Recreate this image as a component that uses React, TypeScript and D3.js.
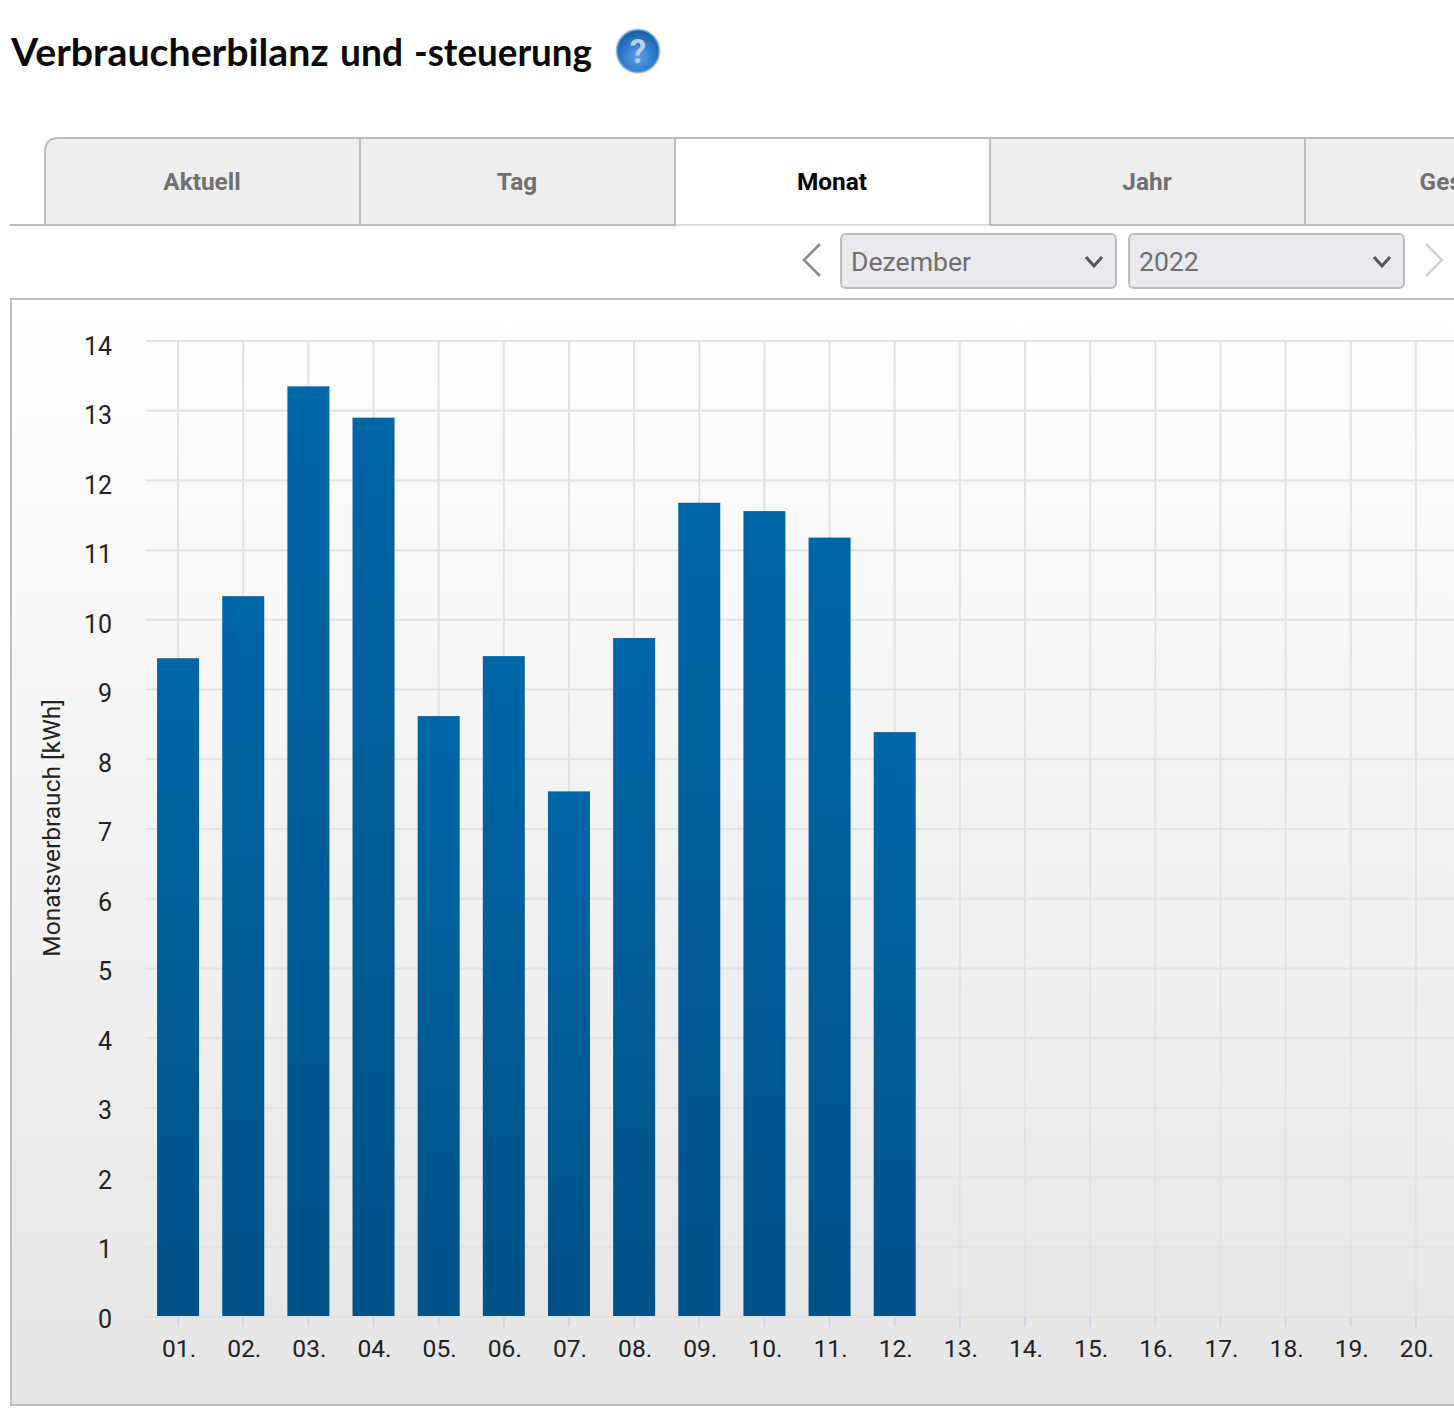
import * as d3 from 'd3';
import { useEffect, useRef } from 'react';

const days = ['01.', '02.', '03.', '04.', '05.', '06.', '07.', '08.', '09.', '10.', '11.', '12.', '13.', '14.', '15.', '16.', '17.', '18.', '19.', '20.'];
const consumption = [9.45, 10.34, 13.35, 12.9, 8.62, 9.48, 7.54, 9.74, 11.68, 11.56, 11.18, 8.39];
const yTicks = [0, 1, 2, 3, 4, 5, 6, 7, 8, 9, 10, 11, 12, 13, 14];
const tabs = ['Aktuell', 'Tag', 'Monat', 'Jahr', 'Gesamt'];
const selects = ['Dezember', '2022'];
const titleWords = ['Verbraucherbilanz ', 'und ', '-steuerung'];

export default function App() {
    const chartRef = useRef<SVGSVGElement>(null);

    useEffect(() => {
        const width = 1454;
        const height = 1408;
        const font = 'Roboto, sans-serif';

        const svg = d3.select(chartRef.current);
        svg.selectAll('*').remove();

        const defs = svg.append('defs');

        const panelGrad = defs.append('linearGradient').attr('id', 'panelGrad').attr('x1', 0).attr('x2', 0).attr('y1', 0).attr('y2', 1);
        panelGrad.append('stop').attr('offset', '0%').attr('stop-color', '#ffffff');
        panelGrad.append('stop').attr('offset', '100%').attr('stop-color', '#e5e5e5');

        const barGrad = defs.append('linearGradient').attr('id', 'barGrad').attr('x1', 0).attr('x2', 0).attr('y1', 0).attr('y2', 1);
        barGrad.append('stop').attr('offset', '0%').attr('stop-color', '#0066a8');
        barGrad.append('stop').attr('offset', '100%').attr('stop-color', '#005287');

        const helpGrad = defs.append('radialGradient').attr('id', 'helpGrad').attr('cx', '50%').attr('cy', '65%').attr('r', '60%');
        helpGrad.append('stop').attr('offset', '0%').attr('stop-color', '#5ba3e6');
        helpGrad.append('stop').attr('offset', '70%').attr('stop-color', '#2a76c6');
        helpGrad.append('stop').attr('offset', '100%').attr('stop-color', '#1a5ea6');

        svg.append('rect').attr('width', width).attr('height', height).attr('fill', '#ffffff');

        // Title
        const titleX = [11, 340, 414];
        const titleW = [327, 72, 178];
        svg.append('text')
            .attr('y', 66)
            .attr('font-family', 'Lato, sans-serif')
            .attr('font-weight', 700)
            .attr('font-size', 38)
            .attr('fill', '#0a0a0a')
            .selectAll('tspan')
            .data(titleWords)
            .join('tspan')
            .attr('x', (d, i) => titleX[i])
            .attr('textLength', (d, i) => titleW[i])
            .attr('lengthAdjust', 'spacingAndGlyphs')
            .text((d) => d);

        // Help icon
        const help = svg.append('g').attr('transform', 'translate(638,51)');
        help.append('circle').attr('r', 23).attr('fill', '#e4eaf0');
        help.append('circle').attr('r', 21).attr('fill', 'url(#helpGrad)').attr('stroke', '#5f97cf').attr('stroke-width', 1.5);
        help.append('text')
            .attr('y', 12)
            .attr('text-anchor', 'middle')
            .attr('font-family', font)
            .attr('font-weight', 700)
            .attr('font-size', 33)
            .attr('fill', '#b9d0e8')
            .text('?');

        // Tabs
        const tabScale = d3.scaleBand<string>().domain(tabs).range([45, 45 + 315 * tabs.length]);
        svg.append('line').attr('x1', 10).attr('x2', width).attr('y1', 225).attr('y2', 225).attr('stroke', '#bdbdbd').attr('stroke-width', 2);
        const tab = svg.append('g').selectAll('g').data(tabs).join('g').attr('transform', (d) => `translate(${tabScale(d)},138)`);
        tab.append('path')
            .attr('d', (d, i) => {
                const w = tabScale.bandwidth();
                return i === 0
                    ? `M0,87V14Q0,0 14,0H${w}V87Z`
                    : `M0,87V0H${w}V87Z`;
            })
            .attr('fill', (d) => (d === 'Monat' ? '#ffffff' : '#eeeeee'))
            .attr('stroke', '#bdbdbd')
            .attr('stroke-width', 2);
        tab.append('text')
            .attr('x', (d) => tabScale.bandwidth() / 2 - 0.5)
            .attr('y', 51.5)
            .attr('text-anchor', 'middle')
            .attr('font-family', font)
            .attr('font-weight', 700)
            .attr('font-size', 24.4)
            .attr('fill', (d) => (d === 'Monat' ? '#000000' : '#707070'))
            .text((d) => d);
        // active tab merges into the page below it
        svg.append('line').attr('x1', tabScale('Monat')! + 1).attr('x2', tabScale('Monat')! + 314).attr('y1', 225.5).attr('y2', 225.5).attr('stroke', '#eeeeee').attr('stroke-width', 2);

        // Month / year selects
        const selectScale = d3.scaleOrdinal<string, number>().domain(selects).range([841, 1129]);
        const select = svg.append('g').selectAll('g').data(selects).join('g').attr('transform', (d) => `translate(${selectScale(d)},234)`);
        select.append('rect').attr('width', 275).attr('height', 54).attr('rx', 5).attr('fill', '#e9e9ee').attr('stroke', '#bcbcbc').attr('stroke-width', 2);
        select.append('text').attr('x', 10).attr('y', 36.5).attr('font-family', font).attr('font-size', 26.6).attr('fill', '#707070').text((d) => d);
        select.append('path').attr('d', 'M245,23l8,9l8,-9').attr('fill', 'none').attr('stroke', '#555555').attr('stroke-width', 3);

        svg.append('path').attr('d', 'M820,244L804,260L820,276').attr('fill', 'none').attr('stroke', '#8a8a8a').attr('stroke-width', 2.5);
        svg.append('path').attr('d', 'M1426,244L1442,260L1426,276').attr('fill', 'none').attr('stroke', '#d2d2d2').attr('stroke-width', 2.5);

        // Chart panel
        svg.append('rect')
            .attr('x', 11)
            .attr('y', 299)
            .attr('width', width + 10)
            .attr('height', 1106)
            .attr('fill', 'url(#panelGrad)')
            .attr('stroke', '#bfbfbf')
            .attr('stroke-width', 2);

        const plotTop = 341;
        const plotBottom = 1317;
        const plotLeft = 145.5;
        const step = 65.15;

        const x = d3.scaleBand<string>()
            .domain(days)
            .range([plotLeft, plotLeft + step * days.length]);
        const y = d3.scaleLinear().domain([0, 14]).range([plotBottom, plotTop]);
        // the tick labels sit a little off the gridlines, more so towards the top
        const yLabel = d3.scaleLinear().domain([0, 14]).range([1319, 346]);

        // Grid
        const grid = svg.append('g');
        grid.selectAll('line.h').data(yTicks).join('line')
            .attr('class', 'h')
            .attr('x1', plotLeft)
            .attr('x2', width)
            .attr('y1', (d) => y(d))
            .attr('y2', (d) => y(d))
            .attr('stroke', '#e2e2e5')
            .attr('stroke-width', 2);
        grid.selectAll('line.v').data(days).join('line')
            .attr('class', 'v')
            .attr('x1', (d) => x(d)! + x.bandwidth() / 2)
            .attr('x2', (d) => x(d)! + x.bandwidth() / 2)
            .attr('y1', plotTop)
            .attr('y2', plotBottom)
            .attr('stroke', '#e2e2e5')
            .attr('stroke-width', 2);

        // Bars
        const barWidth = 42;
        svg.append('g').selectAll('rect').data(consumption).join('rect')
            .attr('x', (d, i) => x(days[i])! + x.bandwidth() / 2 - barWidth / 2)
            .attr('y', (d) => y(d))
            .attr('width', barWidth)
            .attr('height', (d) => y(0) - y(d) - 1)
            .attr('fill', 'url(#barGrad)');

        // X axis
        const xAxis = svg.append('g')
            .attr('transform', `translate(0,${plotBottom})`)
            .call(d3.axisBottom(x).tickSize(10).tickPadding(13));
        xAxis.select('.domain').remove();
        xAxis.selectAll('line').attr('stroke', '#ccd6e6').attr('stroke-width', 2);
        xAxis.selectAll('text').attr('font-family', font).attr('font-size', 24.6).attr('fill', '#222222').attr('dx', 1);

        // Y axis
        const yAxis = svg.append('g')
            .attr('transform', 'translate(112,0)')
            .call(d3.axisLeft(yLabel).tickValues(yTicks).tickSize(0).tickPadding(0).tickFormat(d3.format('d')));
        yAxis.select('.domain').remove();
        yAxis.selectAll('text').attr('font-family', font).attr('font-size', 25).attr('fill', '#222222').attr('dy', '0.32em');

        // Y axis title
        svg.append('text')
            .attr('transform', 'translate(60,828) rotate(-90)')
            .attr('text-anchor', 'middle')
            .attr('font-family', font)
            .attr('font-size', 24.5)
            .attr('fill', '#222222')
            .text('Monatsverbrauch [kWh]');

        return () => {
            svg.selectAll('*').remove();
        };
    }, []);

    return <svg ref={chartRef} width={1454} height={1408} style={{ position: 'absolute', left: 0, top: 0, display: 'block' }} />;
}
